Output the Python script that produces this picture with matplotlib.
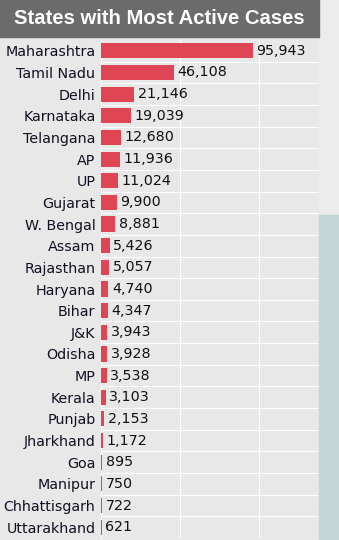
import matplotlib.pyplot as plt
from matplotlib.patches import Rectangle

states = ['Maharashtra', 'Tamil Nadu', 'Delhi', 'Karnataka', 'Telangana', 'AP', 'UP',
          'Gujarat', 'W. Bengal', 'Assam', 'Rajasthan', 'Haryana', 'Bihar', 'J&K',
          'Odisha', 'MP', 'Kerala', 'Punjab', 'Jharkhand', 'Goa', 'Manipur',
          'Chhattisgarh', 'Uttarakhand']
active = [95943, 46108, 21146, 19039, 12680, 11936, 11024, 9900, 8881, 5426, 5057,
          4740, 4347, 3943, 3928, 3538, 3103, 2153, 1172, 895, 750, 722, 621]

W, H = 339, 540
fig = plt.figure(figsize=(W / 100, H / 100), dpi=100)
fig.patch.set_facecolor('#e8e8e8')

# right side strip
fig.patches.append(Rectangle((319 / W, 0), 20 / W, 1, transform=fig.transFigure,
                             color='#ececec', zorder=0))
fig.patches.append(Rectangle((319 / W, 0), 20 / W, (540 - 215) / H, transform=fig.transFigure,
                             color='#c3d5d6', zorder=0))
# title bar
fig.patches.append(Rectangle((0, (540 - 37) / H), 319 / W, 37 / H, transform=fig.transFigure,
                             color='#6b6b6b', zorder=1))
fig.text(159 / W, 1 - 18 / H, 'States with Most Active Cases', color='white',
         fontsize=14.6, fontweight='bold', family='Liberation Sans',
         ha='center', va='center')

ax = fig.add_axes([101 / W, 2 / H, 218 / W, (538 - 40) / H])
ax.set_facecolor('#e8e8e8')
y = list(range(len(states)))
ax.barh(y, active, height=0.7, color='#e04555', zorder=2)
ax.set_ylim(len(states) - 0.5, -0.5)
ax.set_xlim(0, 138000)

for i, v in enumerate(active):
    ax.text(v + 2200, i, f'{v:,}', va='center', ha='left', fontsize=10.3, color='#111111')

ax.set_yticks(y)
ax.set_yticklabels(states, fontsize=10.3, color='#111122')
ax.tick_params(axis='y', length=0, pad=4)
ax.set_xticks([50000, 100000])
ax.tick_params(axis='x', length=0, labelbottom=False)
ax.grid(axis='x', color='white', linewidth=0.8, zorder=1)
for b in [i + 0.5 for i in range(len(states))]:
    ax.axhline(b, color='white', linewidth=0.8, zorder=1)
for s in ax.spines.values():
    s.set_visible(False)
ax.axvline(0, color='white', linewidth=0.8, zorder=1)

fig.savefig('out.png', dpi=100, facecolor=fig.get_facecolor())
